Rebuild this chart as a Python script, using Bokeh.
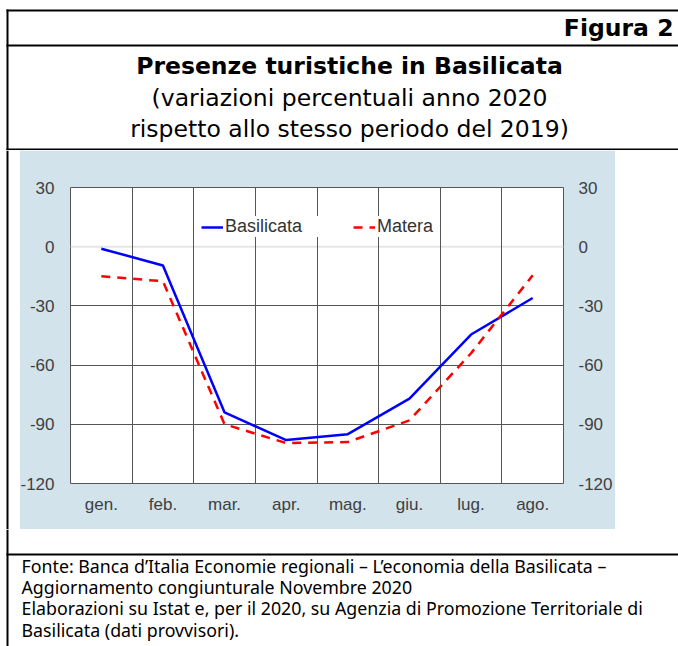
from bokeh.plotting import figure
from bokeh.layouts import column, row
from bokeh.models import (Range1d, FixedTicker, LinearAxis, Legend, LegendItem, Span,
                          CustomJSTickFormatter)
from bokeh.core.properties import value
from bokeh.embed import file_html
from bokeh.resources import INLINE

# ---- data ----
months = ["gen.", "feb.", "mar.", "apr.", "mag.", "giu.", "lug.", "ago."]
basilicata = [-1, -9.5, -84, -98, -95, -77, -44.5, -26]
matera = [-15, -17.5, -90, -99.5, -99, -88, -54, -14.5]
y_ticks = [-120, -90, -60, -30, 0, 30]
series_names = ["Basilicata", "Matera"]

header = "Figura 2"
title = "Presenze turistiche in Basilicata"
subtitle = ["(variazioni percentuali anno 2020", "rispetto allo stesso periodo del 2019)"]
footer = [
    "Fonte: Banca d\u2019Italia Economie regionali \u2013 L\u2019economia della Basilicata \u2013",
    "Aggiornamento congiunturale Novembre 2020",
    "Elaborazioni su Istat e, per il 2020, su Agenzia di Promozione Territoriale di",
    "Basilicata (dati provvisori).",
]

W = 678
TOP_H, MID_H, BOT_H = 150, 379, 117
LEFT_W, CHART_W = 17, 598
RIGHT_W = W - LEFT_W - CHART_W
BLUE_BG = "#d2e3ec"
GRID = "#555555"
TICK_FONT = "Liberation Sans"


def blank(w, h):
    f = figure(width=w, height=h, x_range=Range1d(0, w), y_range=Range1d(h, 0),
               min_border=0, toolbar_location=None, output_backend="svg",
               x_axis_location=None, y_axis_location=None, frame_align=False)
    f.grid.visible = False
    f.outline_line_color = None
    f.background_fill_color = "white"
    f.border_fill_color = "white"
    return f


def bar(f, l, r, t, b):
    f.quad(left=[l], right=[r], top=[t], bottom=[b], fill_color="black", line_color=None)


def txt(f, x, y, s, font, size, style="normal", align="left"):
    f.text(x=[x], y=[y], text=[s], text_font=value(font), text_font_size=value(size),
           text_font_style=style, text_align=align, text_baseline="alphabetic",
           text_color="black")


# ---- header ----
top = blank(W, TOP_H)
bar(top, 6, 8, 9, TOP_H)
bar(top, 6, W, 9, 11)
bar(top, 6, W, 44, 46)
bar(top, 6, W, 148, 150)
txt(top, 673, 27, header, "DejaVu Sans", "23.5px", "bold", "right")
txt(top, 349, 65, title, "DejaVu Sans", "23.5px", "bold", "center")
txt(top, 349, 97, subtitle[0], "DejaVu Sans", "23.5px", "normal", "center")
txt(top, 349, 128, subtitle[1], "DejaVu Sans", "23.5px", "normal", "center")

# ---- side strips ----
left = blank(LEFT_W, MID_H)
bar(left, 6, 8, 0, MID_H)
right = blank(RIGHT_W, MID_H)

# ---- chart ----
x_pos = [i + 0.5 for i in range(len(months))]
p = figure(width=CHART_W, height=MID_H, output_backend="svg", toolbar_location=None,
           x_range=Range1d(0, len(months)), y_range=Range1d(y_ticks[0], y_ticks[-1]),
           min_border_left=53, min_border_right=52, min_border_top=37, min_border_bottom=46,
           frame_align=False, styles={"clip-path": "inset(0px 0px 0px 3px)"})
p.border_fill_color = BLUE_BG
p.background_fill_color = "white"
p.outline_line_color = GRID
p.outline_line_width = 1

p.xgrid.ticker = FixedTicker(ticks=list(range(1, len(months))))
p.ygrid.ticker = FixedTicker(ticks=[t for t in y_ticks if t not in (0, y_ticks[0], y_ticks[-1])])
for g in (p.xgrid[0], p.ygrid[0]):
    g.grid_line_color = GRID
    g.grid_line_width = 1
p.add_layout(Span(location=0, dimension="width", line_color="#e6e6e6", line_width=2, level="image"))

right_axis = LinearAxis()
p.add_layout(right_axis, "right")
yfmt = CustomJSTickFormatter(code="return tick.toFixed(0);")
for ax, so in ((p.yaxis[0], 16), (right_axis, 15)):
    ax.ticker = FixedTicker(ticks=y_ticks)
    ax.formatter = yfmt
    ax.major_label_standoff = so

p.xaxis.ticker = FixedTicker(ticks=x_pos)
p.xaxis.formatter = CustomJSTickFormatter(args=dict(labels=months),
                                          code="return labels[Math.floor(tick)];")
p.xaxis.major_label_standoff = 11

for ax in [p.xaxis[0], p.yaxis[0], right_axis]:
    ax.axis_line_color = None
    ax.major_tick_line_color = None
    ax.minor_tick_line_color = None
    ax.major_tick_out = 0
    ax.major_tick_in = 0
    ax.major_label_text_font = TICK_FONT
    ax.major_label_text_font_size = "17px"
    ax.major_label_text_color = "#404040"

r1 = p.line(x_pos, basilicata, line_color="#0000ff", line_width=2.5)
r2 = p.line(x_pos, matera, line_color="#ff0000", line_width=2.5, line_dash="9 7")

legend = Legend(items=[LegendItem(label=series_names[0], renderers=[r1]),
                       LegendItem(label=series_names[1], renderers=[r2])],
                location=(131, 246), orientation="horizontal",
                background_fill_color="white", background_fill_alpha=1,
                border_line_color=None, padding=9, spacing=51, margin=0,
                glyph_width=22, glyph_height=18, label_height=18, label_standoff=2,
                label_text_font=TICK_FONT, label_text_font_size="18px",
                label_text_color="#333333")
p.add_layout(legend, "center")

# ---- footer ----
bot = blank(W, BOT_H)
bar(bot, 6, 8, 0, BOT_H)
bar(bot, 6, W, 24, 26)
for i, line in enumerate(footer):
    txt(bot, 21, 36 + 21.4 * i, line, "Noto Sans", "17.8px", "normal", "left")

layout = column(top, row(left, p, right, spacing=0), bot, spacing=0)
open("out.html", "w").write(file_html(layout, INLINE))
